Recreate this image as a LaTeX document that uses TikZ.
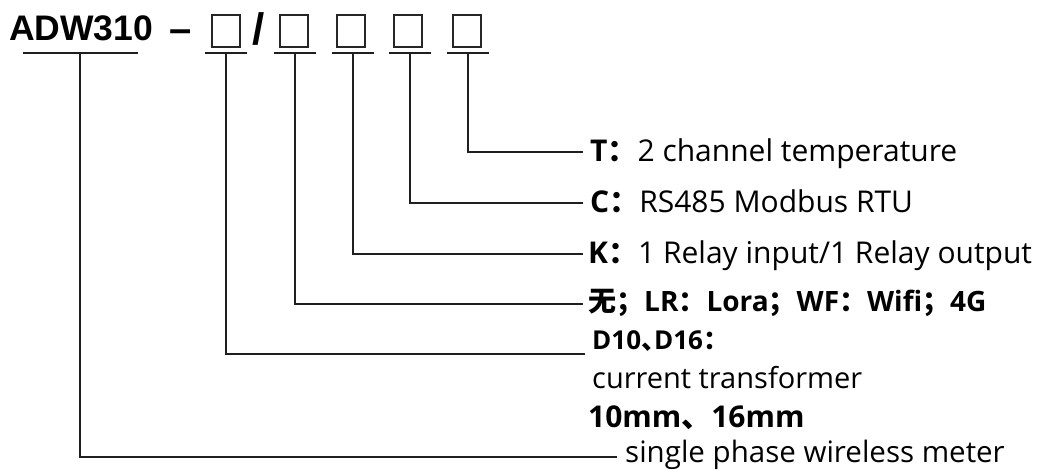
\documentclass[tikz,border=0pt]{standalone}
\usepackage{fontspec}
\setmainfont{Open Sans}
\newfontfamily\cjk{Noto Sans CJK SC}
\newfontfamily\cjkp[RawFeature=+palt]{Noto Sans CJK SC}
\newfontfamily\arialf{Liberation Sans}
\begin{document}
\begin{tikzpicture}[x=1pt,y=-1pt,
  ln/.style={line width=1.5pt, draw=black!88},
  lbl/.style={anchor=base west, inner sep=0, font=\fontsize{30}{34}\selectfont},
  boxnode/.style={draw=black!85, line width=1.5pt, minimum width=28pt, minimum height=32pt, inner sep=0},
  headf/.style={inner sep=0, font=\arialf\bfseries\fontsize{35.5}{40}\selectfont}]
\useasboundingbox (0,0) rectangle (1037,470);
% header
\node[headf, anchor=base west] (title) at (9,41) {ADW310};
\node[headf, anchor=base, font=\arialf\bfseries\fontsize{40}{44}\selectfont] (dash) at (181,43) {–};
\node[boxnode] (b1) at (226,31) {};
\node[headf, anchor=base, font=\arialf\bfseries\fontsize{44}{48}\selectfont] (sl) at (259,45) {/};
\node[boxnode] (b2) at (294,31) {};
\node[boxnode] (b3) at (351,31) {};
\node[boxnode] (b4) at (408,31) {};
\node[boxnode] (b5) at (467,31) {};
% underline anchor points
\coordinate (u0l) at (23,53);  \coordinate (u0r) at (138,53); \coordinate (u0) at (80,53);
\coordinate (u1l) at (205,53); \coordinate (u1r) at (247,53); \coordinate (u1) at (226,53);
\coordinate (u2l) at (274,53); \coordinate (u2r) at (316,53); \coordinate (u2) at (295,53);
\coordinate (u3l) at (332,53); \coordinate (u3r) at (374,53); \coordinate (u3) at (353,53);
\coordinate (u4l) at (389,53); \coordinate (u4r) at (431,53); \coordinate (u4) at (410,53);
\coordinate (u5l) at (447,53); \coordinate (u5r) at (489,53); \coordinate (u5) at (468,53);
% line ends
\coordinate (e5) at (583,152);
\coordinate (e4) at (583,203);
\coordinate (e3) at (583,254);
\coordinate (e2) at (583,304);
\coordinate (e1) at (585,354);
\coordinate (e0) at (617,457);
% labels
\node[lbl] (l5) at (590,162) {{\bfseries T}{\cjk\bfseries ：}2 channel temperature};
\node[lbl] (l4) at (590,213) {{\bfseries C}{\cjk\bfseries ：}RS485 Modbus RTU};
\node[lbl] (l3) at (588,264) {{\bfseries K}{\cjk\bfseries ：}1 Relay input/1 Relay output};
\node[lbl, font=\bfseries\fontsize{28}{32}\selectfont] (l2) at (588,312) {{\cjk 无；}LR{\cjk ：}Lora{\cjk ；}WF{\cjk ：}Wifi{\cjk ；}4G};
\node[lbl, font=\bfseries\fontsize{26}{30}\selectfont] (l1a) at (592,350) {D10{\cjkp 、}D16{\cjkp ：}};
\node[lbl, font=\fontsize{29}{34}\selectfont] (l1b) at (592,389) {current transformer};
\node[lbl, font=\bfseries\fontsize{30}{34}\selectfont] (l1c) at (588,428) {10mm{\cjk 、}16mm};
\node[lbl, font=\fontsize{29.5}{34}\selectfont] (l0) at (625,463) {single phase wireless meter};
% connectors
\foreach \i in {0,...,5} {
  \draw[ln] (u\i l) -- (u\i r);
  \draw[ln] (u\i) |- (e\i);
}
\end{tikzpicture}
\end{document}
